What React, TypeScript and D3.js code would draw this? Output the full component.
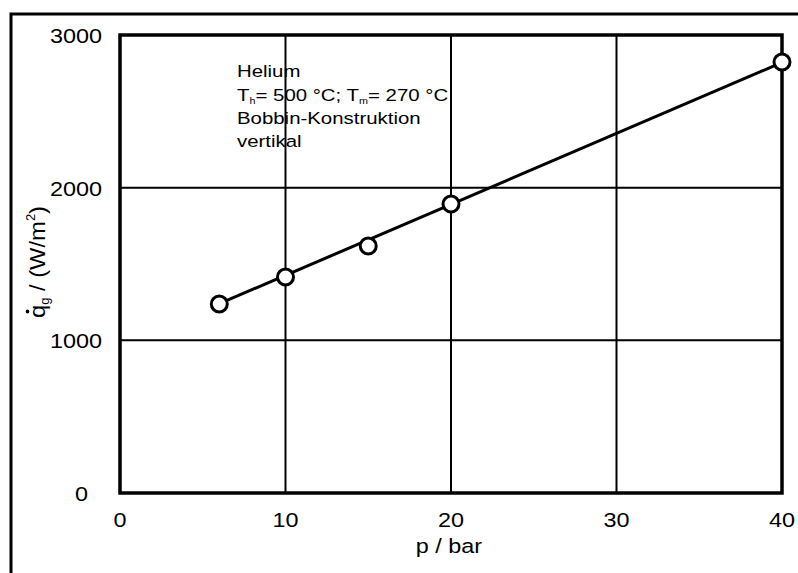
import React from "react";
import * as d3 from "d3";

const pressures = [6, 10, 15, 20, 40];
const heatFlux = [1238, 1415, 1618, 1893, 2823];
const fitPressure = [6, 40];
const fitHeatFlux = [1240, 2820];
const xTicks = [0, 10, 20, 30, 40];
const yTicks = [0, 1000, 2000, 3000];
const xGrid = [10, 20, 30];
const yGrid = [1000, 2000];

const W = 798;
const H = 573;
const FONT = "'Liberation Sans', Arial, Helvetica, sans-serif";
const SX = 1.2;

function T({
  x,
  y,
  anchor = "start",
  size,
  children,
}: {
  x: number;
  y: number;
  anchor?: string;
  size: number;
  children: React.ReactNode;
}) {
  return (
    <g transform={`translate(${x},${y}) scale(${SX},1)`}>
      <text x={0} y={0} textAnchor={anchor} fontSize={size} fill="#000">
        {children}
      </text>
    </g>
  );
}

export default function App() {
  const x = d3.scaleLinear().domain([0, 40]).range([120, 782]);
  const y = d3.scaleLinear().domain([0, 3000]).range([493, 35]);
  const line = d3
    .line<[number, number]>()
    .x((d) => x(d[0]))
    .y((d) => y(d[1]));
  const fitPts: [number, number][] = fitPressure.map((p, i) => [p, fitHeatFlux[i]]);
  const pts = pressures.map((p, i) => [p, heatFlux[i]] as [number, number]);

  return (
    <svg
      width={W}
      height={H}
      style={{ position: "absolute", left: 0, top: 0, background: "#fff" }}
      fontFamily={FONT}
    >
      <rect x={0} y={0} width={W} height={H} fill="#fff" />
      {/* outer frame */}
      <rect x={11} y={14} width={W + 10} height={H + 10} fill="none" stroke="#000" strokeWidth={3} />

      {/* grid */}
      {xGrid.map((v) => (
        <line key={"gx" + v} x1={x(v)} x2={x(v)} y1={y(0)} y2={y(3000)} stroke="#000" strokeWidth={2} />
      ))}
      {yGrid.map((v) => (
        <line key={"gy" + v} x1={x(0)} x2={x(40)} y1={y(v)} y2={y(v)} stroke="#000" strokeWidth={2} />
      ))}

      {/* plot frame */}
      <rect
        x={x(0)}
        y={y(3000)}
        width={x(40) - x(0)}
        height={y(0) - y(3000)}
        fill="none"
        stroke="#000"
        strokeWidth={3.5}
      />

      {/* fit line */}
      <path d={line(fitPts) || ""} fill="none" stroke="#000" strokeWidth={3} />

      {/* points */}
      {pts.map((d, i) => (
        <circle key={i} cx={x(d[0])} cy={y(d[1])} r={8} fill="#fff" stroke="#000" strokeWidth={3} />
      ))}

      {/* x tick labels */}
      {xTicks.map((v) => (
        <T key={"xt" + v} x={x(v)} y={527} anchor="middle" size={19.5}>
          {v}
        </T>
      ))}

      {/* y tick labels */}
      {yTicks.map((v) => (
        <T key={"yt" + v} x={v === 0 ? 88 : 102} y={y(v) + 8} anchor="end" size={19.5}>
          {v}
        </T>
      ))}

      {/* x axis label */}
      <T x={449} y={553} anchor="middle" size={19.5}>
        p / bar
      </T>

      {/* y axis label */}
      <g transform="translate(45,318) rotate(-90) scale(1.08,1)">
        <text x={0} y={0} fontSize={22} fill="#000">
          <tspan>q</tspan>
          <tspan fontSize={12} dy={4}>g</tspan>
          <tspan dy={-4}> / (W/m</tspan>
          <tspan fontSize={12} dy={-10}>2</tspan>
          <tspan dy={10}>)</tspan>
        </text>
        <circle cx={6} cy={-17.5} r={1.8} fill="#000" />
      </g>

      {/* annotation */}
      <T x={237} y={77} size={17}>
        Helium
      </T>
      <T x={237} y={101} size={17}>
        <tspan>T</tspan>
        <tspan fontSize={9} dy={3}>h</tspan>
        <tspan dy={-3}>= 500 °C; T</tspan>
        <tspan fontSize={9} dy={3}>m</tspan>
        <tspan dy={-3}>= 270 °C</tspan>
      </T>
      <T x={237} y={124} size={17}>
        Bobbin-Konstruktion
      </T>
      <T x={237} y={147} size={17}>
        vertikal
      </T>
    </svg>
  );
}
